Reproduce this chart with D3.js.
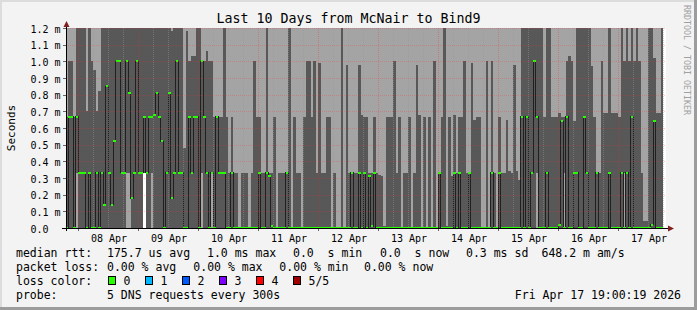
<!DOCTYPE html>
<html>
<head>
<meta charset="utf-8">
<script src="https://cdn.jsdelivr.net/npm/d3@7"></script>
<style>
  body { margin: 0; background: #f3f3f3; }
  svg { display: block; }
  text { font-family: "DejaVu Sans Mono", monospace; fill: #000; white-space: pre; }
</style>
</head>
<body>
<div id="chart"></div>
<script>
// One value per hour, Apr 7 19:00 .. Apr 17 19:00 (UTC used as wall time), one row per 24 bins.
// Median rtt in ms.
const medianRtt = [
  0,0.667,0.667,0,0.667,0.333,0.333,0.333,0,0.333,0,0,0.333,0,0.333,0.14,0.85,0.333,0.14,0.52,1.0,1.0,0.333,0.333,
  1.0,0.81,0.18,0.333,1.0,0.333,0.333,0.667,0.333,0.667,0.667,0.68,0.81,0.667,0.52,0,0.333,0.81,0.18,0.333,1.0,0.333,0.333,0,
  0,0.667,0.333,0.667,0.667,0,1.0,0.667,0.333,0,0.333,0,0.667,0.333,0.333,0.333,0,0,0.333,0,0,0,0,0,
  0,0,0,0,0,0.333,0,0,0.333,0.31,0.01,0,0,0,0,0,0.333,0,0,0,0,0,0,0,
  0,0,0,0,0,0,0,0,0,0,0,0,0,0,0,0,0,0,0.333,0,0,0.333,0,0.333,
  0,0.31,0.01,0.333,0,0,0,0,0,0,0,0,0,0,0,0,0,0,0,0,0,0,0,0,
  0,0,0,0,0,0.333,0,0,0,0,0,0.333,0,0.333,0,0,0,0.333,0,0,0,0,0,0,
  0,0,0.333,0,0,0.333,0,0,0,0,0,0,0,0,0.667,0,0.667,0,0.333,1.0,0.667,0,0,0,
  0.333,0,0,0,0,0.02,0.64,0,0.667,0,0,0.333,0.333,0,0,0.667,0.333,0,0,0,0.333,0,0,0,
  0,0.333,0,0,0,0,0.333,0,0.333,0,0.667,0,0,0,0,0,0,0,0.02,0.64,0,0,0,null
];

// Upper edge of the dark smoke band (2nd highest ping), ms. 1.3 = above the top of the chart.
const smokeHigh = [
  0.667,1.0,1.0,0.667,1.3,1.3,1.3,1.3,0.7,1.3,1.0,0.95,0.7,0.82,1.3,1.3,1.3,1.3,1.3,1.3,1.3,1.3,1.3,1.3,
  1.3,1.3,1.3,1.3,1.3,1.3,1.3,1.3,1.3,1.3,1.3,1.3,1.3,1.3,1.3,1.3,1.3,1.3,1.18,1.3,1.3,1.3,1.3,0.48,
  1.18,1.0,1.03,1.03,1.3,1.3,1.0,1.0,1.06,1.0,1.0,0.667,0.667,0.667,0.667,1.3,0.667,0.333,0.667,0.333,0.333,0,0.333,0.333,
  0.333,0,0.333,1.0,0.667,0.667,0.333,0.333,1.3,0.333,0.333,0.667,0,0.333,0.333,0.333,0.333,1.3,0,0.667,0.333,0.333,0,0.667,
  1.0,1.0,0.667,1.0,0.333,0.99,0.333,0.333,0.667,0.667,0,0.333,0,0,1.3,0,0.98,0.333,0.333,0.333,0.333,0.98,0.68,0.667,
  0.667,0.333,0.333,0.667,0.333,0.32,0.31,0.01,0.667,0.667,0.667,1.0,0.333,0.667,0,0.333,0.333,0.667,0,0.333,0.98,0.68,0,0.667,
  0,0.667,0,1.0,0,0.333,0.667,1.3,0.01,0.667,0.31,0.68,0.333,0.667,0.667,1.0,0.333,0.333,0.99,0.65,0.667,0.667,0,0,
  1.0,0,1.0,0.333,0,0.667,0.333,0.333,0.65,0.34,0.333,0.98,0.34,0.29,1.3,1.3,1.3,1.3,1.3,1.3,1.3,1.3,1.3,0.667,
  1.3,1.3,0.667,0.667,0.667,0.69,0.667,0.667,1.0,1.03,1.0,0.64,1.3,1.3,1.3,1.3,1.3,1.3,0.97,0.667,0.333,0.333,1.0,0.69,
  0.69,1.3,0.69,0.69,0.69,0.667,1.3,1.0,1.3,1.0,1.3,1.0,1.3,1.0,0.333,0.04,0.04,1.3,1.3,1.02,0.69,0.69,1.3,null
];

// Hours where the dark band starts above zero: [bin, value]
const smokeLowRaised = [[4,0.333],[24,0.333],[25,0.333],[31,0.333],[34,0.333],[54,0.333],[58,0.333],[188,0.333],[199,0.333],[223,0.333]];
// Hours where even the fastest ping is above zero: [bin, value]
const pingMinRaised = [[31,0.333]];
// Slowest ping, above the chart top everywhere
const pingMax = 1.3;

const yTicks = [0,0.1,0.2,0.3,0.4,0.5,0.6,0.7,0.8,0.9,1.0,1.1,1.2];
const yTickLabels = ["0.0","0.1 m","0.2 m","0.3 m","0.4 m","0.5 m","0.6 m","0.7 m","0.8 m","0.9 m","1.0 m","1.1 m","1.2 m"];
const xLabelDays = [8,9,10,11,12,13,14,15,16,17];

const medianStats = ["175.7 us avg", "1.0 ms max", "0.0  s min", "0.0  s now", "0.3 ms sd", "648.2 m am/s"];
const lossStats = ["0.00 % avg", "0.00 % max", "0.00 % min", "0.00 % now"];
const lossColors = [
  { label: "0", color: "#26ff00" },
  { label: "1", color: "#00b8ff" },
  { label: "2", color: "#0059ff" },
  { label: "3", color: "#7e00ff" },
  { label: "4", color: "#ff0000" },
  { label: "5/5", color: "#a10000" },
];

const W = 697, H = 310;
const plot = { left: 66, right: 666, top: 28, bottom: 228 };

const tStart = new Date(Date.UTC(2026, 3, 7, 19, 0, 19));
const tEnd = new Date(Date.UTC(2026, 3, 17, 19, 0, 19));
const binStart = Date.UTC(2026, 3, 7, 19, 0, 0);

const x = d3.scaleUtc().domain([tStart, tEnd]).range([plot.left, plot.right]);
const y = d3.scaleLinear().domain([0, 1.2]).range([plot.bottom, plot.top]);

const lowMap = new Map(smokeLowRaised);
const minMap = new Map(pingMinRaised);
const bins = medianRtt.map((m, i) => ({
  t0: new Date(binStart + i * 3600e3),
  t1: new Date(binStart + (i + 1) * 3600e3),
  median: m,
  high: smokeHigh[i],
  low: lowMap.get(i) || 0,
  floor: minMap.get(i) || 0,
})).filter(d => d.median != null);

// step curves need an end point for the last bin
const last = bins[bins.length - 1];
const stepPts = bins.concat([{ ...last, t0: last.t1 }]);

const svg = d3.select("#chart").append("svg").attr("width", W).attr("height", H);

// frame
svg.append("rect").attr("width", W).attr("height", H).attr("fill", "#f3f3f3");
svg.append("rect").attr("x", 0).attr("y", 0).attr("width", W).attr("height", 2).attr("fill", "#dcdcdc");
svg.append("rect").attr("x", 0).attr("y", 0).attr("width", 2).attr("height", H).attr("fill", "#dcdcdc");
svg.append("rect").attr("x", W - 3).attr("y", 0).attr("width", 3).attr("height", H).attr("fill", "#9c9c9c");
svg.append("rect").attr("x", 0).attr("y", H - 3).attr("width", W).attr("height", 3).attr("fill", "#9c9c9c");

svg.append("defs").append("clipPath").attr("id", "plotclip")
  .append("rect").attr("x", plot.left).attr("y", plot.top)
  .attr("width", plot.right - plot.left).attr("height", plot.bottom - plot.top);

svg.append("rect").attr("x", plot.left).attr("y", plot.top)
  .attr("width", plot.right - plot.left).attr("height", plot.bottom - plot.top)
  .attr("fill", "#ffffff");

const g = svg.append("g").attr("clip-path", "url(#plotclip)");

// smoke
g.append("path").datum(stepPts)
  .attr("fill", "#a4a4a4").attr("shape-rendering", "crispEdges")
  .attr("d", d3.area().curve(d3.curveStepAfter)
    .x(d => x(d.t0)).y0(d => y(d.floor)).y1(() => y(pingMax)));

g.append("path").datum(stepPts)
  .attr("fill", "#585858").attr("shape-rendering", "crispEdges")
  .attr("d", d3.area().curve(d3.curveStepAfter)
    .x(d => x(d.t0)).y0(d => y(d.low)).y1(d => y(d.high)));

// median line
g.append("path").datum(stepPts)
  .attr("fill", "none").attr("stroke", "#202020").attr("stroke-width", 1)
  .attr("shape-rendering", "crispEdges")
  .attr("d", d3.line().curve(d3.curveStepAfter).x(d => x(d.t0)).y(d => y(d.median)));

// loss-colored median marks
g.append("g").selectAll("rect").data(bins).join("rect")
  .attr("x", d => Math.round(x(d.t0)))
  .attr("width", d => Math.round(x(d.t1)) - Math.round(x(d.t0)))
  .attr("y", d => Math.round(y(d.median)) - 1)
  .attr("height", 2)
  .attr("fill", lossColors[0].color);

// grid
const grid = svg.append("g").attr("stroke-dasharray", "1,1").attr("stroke-width", 1)
  .attr("shape-rendering", "crispEdges");
const minorTimes = x.ticks(d3.utcHour.every(6)).filter(t => t.getUTCHours() !== 0);
const majorTimes = x.ticks(d3.utcDay.every(1));
grid.selectAll(".minor").data(minorTimes).join("line")
  .attr("x1", d => Math.round(x(d)) + 0.5).attr("x2", d => Math.round(x(d)) + 0.5)
  .attr("y1", plot.top).attr("y2", plot.bottom)
  .attr("stroke", "rgba(150,150,150,0.45)");
grid.selectAll(".hmajor").data(yTicks.slice(1)).join("line")
  .attr("x1", plot.left).attr("x2", plot.right)
  .attr("y1", d => Math.round(y(d)) + 0.5).attr("y2", d => Math.round(y(d)) + 0.5)
  .attr("stroke", "rgba(255,40,40,0.25)");
grid.selectAll(".vmajor").data(majorTimes).join("line")
  .attr("x1", d => Math.round(x(d)) + 0.5).attr("x2", d => Math.round(x(d)) + 0.5)
  .attr("y1", plot.top).attr("y2", plot.bottom)
  .attr("stroke", "rgba(255,40,40,0.3)");

// y axis labels
const yAxis = svg.append("g").attr("transform", `translate(${plot.left},0)`)
  .call(d3.axisLeft(y).tickValues(yTicks).tickSize(3).tickFormat((d, i) => yTickLabels[i]));
yAxis.select(".domain").remove();
yAxis.selectAll(".tick line").attr("stroke", "#666").attr("shape-rendering", "crispEdges");
yAxis.selectAll(".tick text")
  .attr("text-anchor", "start").attr("x", 30.5 - plot.left).attr("dy", "0.42em")
  .attr("font-size", 10).attr("font-family", "DejaVu Sans Mono");

// x axis labels
const xAxis = svg.append("g").attr("transform", `translate(0,${plot.bottom})`)
  .call(d3.axisBottom(x)
    .tickValues(xLabelDays.map(d => new Date(Date.UTC(2026, 3, d, 12))))
    .tickSize(0).tickPadding(7)
    .tickFormat(d3.utcFormat("%d %b")));
xAxis.select(".domain").remove();
xAxis.selectAll(".tick text").attr("font-size", 10).attr("font-family", "DejaVu Sans Mono");

// x ticks below axis
svg.append("g").selectAll("line").data(majorTimes).join("line")
  .attr("x1", d => Math.round(x(d)) + 0.5).attr("x2", d => Math.round(x(d)) + 0.5)
  .attr("y1", plot.bottom).attr("y2", plot.bottom + 3).attr("stroke", "#666");

// axis lines and arrows
svg.append("line").attr("x1", plot.left - 4).attr("x2", plot.right + 3)
  .attr("y1", plot.bottom + 0.5).attr("y2", plot.bottom + 0.5).attr("stroke", "#000");
svg.append("line").attr("x1", plot.left + 0.5).attr("x2", plot.left + 0.5)
  .attr("y1", plot.bottom + 3).attr("y2", plot.top - 4).attr("stroke", "#000");
svg.append("path").attr("fill", "#7f1f1f")
  .attr("d", `M${plot.left - 2.5},${plot.top - 1}L${plot.left + 3.5},${plot.top - 1}L${plot.left + 0.5},${plot.top - 7}Z`);
svg.append("path").attr("fill", "#7f1f1f")
  .attr("d", `M${plot.right + 2},${plot.bottom - 2.5}L${plot.right + 2},${plot.bottom + 3.5}L${plot.right + 8},${plot.bottom + 0.5}Z`);

// title and labels
svg.append("text").attr("x", W / 2).attr("y", 23).attr("text-anchor", "middle")
  .attr("font-size", 13.3).text("Last 10 Days from McNair to Bind9");
svg.append("text").attr("transform", "translate(15,128) rotate(-90)")
  .attr("text-anchor", "middle").attr("font-size", 11).text("Seconds");
svg.append("text").attr("transform", "translate(684,5) rotate(90)")
  .attr("font-size", 8.3).style("fill", "#a0a0a0").text("RRDTOOL / TOBI OETIKER");

// legend
const legendFont = 11.5;
const lineY = [257, 271, 285, 299];
const leg = svg.append("g").attr("font-size", legendFont);
leg.append("text").attr("x", 16).attr("y", lineY[0]).text("median rtt:");
const medianX = [107, 207, 293, 380, 466, 541.5];
medianStats.forEach((s, i) => leg.append("text").attr("x", medianX[i]).attr("y", lineY[0]).text(s));
leg.append("text").attr("x", 16).attr("y", lineY[1]).text("packet loss:");
const lossX = [107, 193.3, 279.3, 364];
lossStats.forEach((s, i) => leg.append("text").attr("x", lossX[i]).attr("y", lineY[1]).text(s));
leg.append("text").attr("x", 16).attr("y", lineY[2]).text("loss color:");
const boxX = d3.scaleLinear().domain([0, 5]).range([108.5, 293.5]);
leg.selectAll(".lc").data(lossColors).join("g").each(function (d, i) {
  const gg = d3.select(this);
  gg.append("rect").attr("x", boxX(i)).attr("y", lineY[2] - 8.5).attr("width", 7).attr("height", 8)
    .attr("fill", d.color).attr("stroke", "#000").attr("stroke-width", 1);
  gg.append("text").attr("x", boxX(i) + 15).attr("y", lineY[2]).text(d.label);
});
leg.append("text").attr("x", 16).attr("y", lineY[3]).text("probe:");
leg.append("text").attr("x", 107).attr("y", lineY[3]).text("5 DNS requests every 300s");
leg.append("text").attr("x", 681).attr("y", lineY[3]).attr("text-anchor", "end").text("Fri Apr 17 19:00:19 2026");
</script>
</body>
</html>
